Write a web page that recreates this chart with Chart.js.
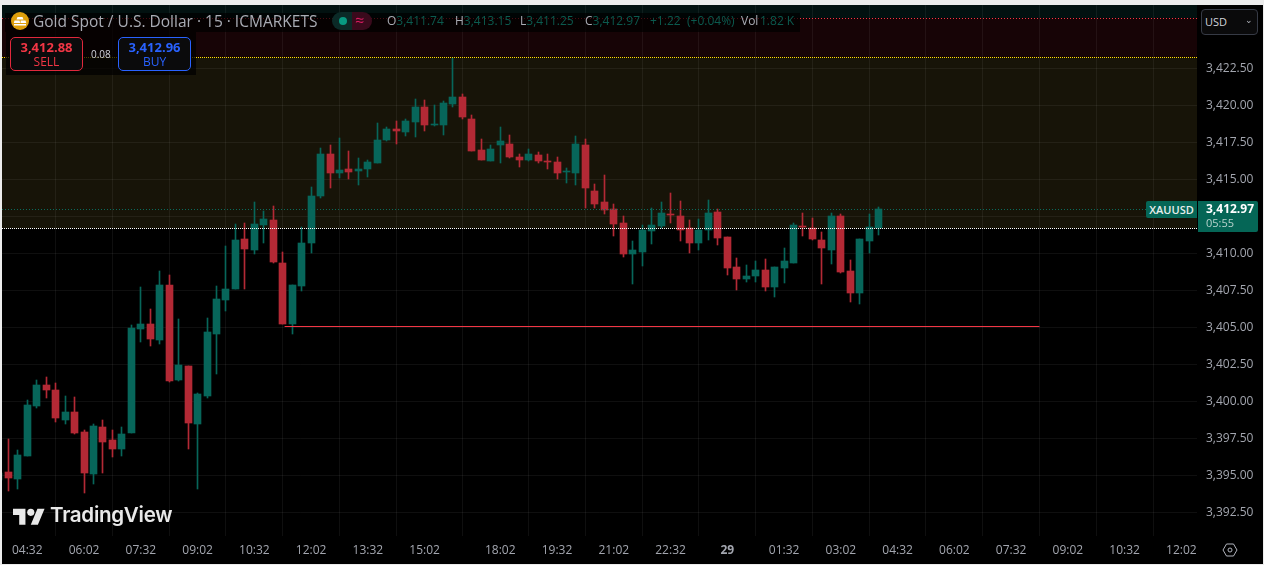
<!DOCTYPE html>
<html>
<head>
<meta charset="utf-8">
<title>XAUUSD 15</title>
<script src="https://cdn.jsdelivr.net/npm/chart.js@4"></script>
<style>
    html, body { margin: 0; padding: 0; background: #ececec; overflow: hidden; }
    body { width: 1264px; height: 565px; position: relative; font-family: "Open Sans", sans-serif; }
    #wrap { position: absolute; left: 2px; top: 5px; width: 1261px; height: 559px; background: #000; overflow: hidden; }
    canvas { display: block; }
    .abs { position: absolute; white-space: nowrap; }
    .legend { left: 3px; top: 8px; width: 795px; height: 19px; background: rgba(0,0,0,.72); }
    .title { left: 31px; top: 6px; font-size: 15.5px; line-height: 20px; color: #a9acb4; }
    .ohlc { top: 7px; font-size: 12px; line-height: 18px; color: #0b5a4e; }
    .ohlc b { font-weight: 400; color: #a9acb4; }
    .panel { left: 4px; top: 27px; width: 190px; height: 43px; background: rgba(0,0,0,.72); }
    .btn { top: 32px; width: 71px; height: 32px; border: 1px solid; border-radius: 5px; background: #0b0b0c; text-align: center; }
    .btn .p { font-size: 13px; font-weight: 700; line-height: 15px; margin-top: 2px; }
    .btn .s { font-size: 12px; line-height: 13px; }
    .tag { background: #056656; color: #e8eeec; }
</style>
</head>
<body>
<div id="wrap">
    <canvas id="chart" width="1261" height="559"></canvas>

    <div class="abs legend"></div>
    <svg class="abs" style="left:9px;top:7px" width="18" height="18" viewBox="0 0 18 18">
        <circle cx="9" cy="9" r="9" fill="#dd9f0b"/>
        <path d="M6.5 5h5l1 2.5h-7zM3.5 8.5h5l.8 2.5H2.8zM9.6 8.5h4.9l.8 2.5H9.6z M3 12h12v1.5H3z" fill="#fff"/>
    </svg>
    <div class="abs title">Gold Spot / U.S. Dollar · 15 · ICMARKETS</div>
    <div class="abs" style="left:330px;top:7px;width:20px;height:18px;background:#0b2a27;border-radius:9px 0 0 9px"></div>
    <div class="abs" style="left:350px;top:7px;width:20px;height:18px;background:#3a0a1c;border-radius:0 9px 9px 0"></div>
    <div class="abs" style="left:337px;top:12px;width:8px;height:8px;background:#089981;border-radius:50%"></div>
    <div class="abs" style="left:353px;top:6px;font-size:16px;line-height:19px;color:#d81b60">≈</div>
    <div class="abs ohlc" style="left:385px"><b>O</b>3,411.74</div>
    <div class="abs ohlc" style="left:453px"><b>H</b>3,413.15</div>
    <div class="abs ohlc" style="left:518px"><b>L</b>3,411.25</div>
    <div class="abs ohlc" style="left:583px"><b>C</b>3,412.97</div>
    <div class="abs ohlc" style="left:648px">+1.22</div>
    <div class="abs ohlc" style="left:685px">(+0.04%)</div>
    <div class="abs ohlc" style="left:739px"><b>Vol</b></div>
    <div class="abs ohlc" style="left:758px">1.82 K</div>

    <div class="abs panel"></div>
    <div class="abs btn" style="left:8px;border-color:#e0283c;color:#f23645"><div class="p">3,412.88</div><div class="s">SELL</div></div>
    <div class="abs" style="left:89px;top:42px;font-size:10px;line-height:14px;color:#d1d4dc">0.08</div>
    <div class="abs btn" style="left:116px;border-color:#2962ff;color:#2962ff"><div class="p">3,412.96</div><div class="s">BUY</div></div>

    <div class="abs" style="left:1199px;top:4px;width:55px;height:24px;border:1px solid #363a45;border-radius:4px;background:#0a0a0b;color:#d1d4dc;font-size:11px;line-height:24px;text-indent:3px">USD<span style="position:absolute;right:4px;top:-2px;font-size:9px;color:#b2b5be">⌄</span></div>

    <div class="abs tag" style="left:1144px;top:196px;width:51px;height:17px;font-size:11px;font-weight:600;line-height:17px;text-align:center;border-radius:2px 0 0 2px">XAUUSD</div>
    <div class="abs tag" style="left:1196px;top:196px;width:60px;height:31px;border-radius:0 2px 2px 0">
        <div style="font-size:12px;font-weight:700;line-height:15px;margin-left:8px;color:#fff">3,412.97</div>
        <div style="font-size:11px;line-height:14px;margin-left:8px;color:#b9d3cd">05:55</div>
    </div>

    <svg class="abs" style="left:11px;top:500px" width="32" height="20" viewBox="0 0 36 22">
        <path d="M14 22H7V11H0V4h14v18zM28 22h-8l7.5-18h8L28 22z" fill="#e8e8e8"/>
        <circle cx="20" cy="8" r="4" fill="#e8e8e8"/>
    </svg>
    <div class="abs" style="left:48px;top:497px;font-family:Inter,sans-serif;font-size:20.6px;font-weight:600;line-height:26px;letter-spacing:-.3px;color:#e8e8e8">TradingView</div>

    <svg class="abs" style="left:1220px;top:537px" width="16" height="16" viewBox="0 0 16 16" fill="none" stroke="#b2b5be">
        <path d="M4.5 2h7L15 8l-3.5 6h-7L1 8z"/>
        <circle cx="8" cy="8" r="2"/>
    </svg>
</div>

<script>
"use strict";

// Candle data, one entry per 15 min bar
const opens = [3394.68, 3395.22, 3394.75, 3396.30, 3399.68, 3401.10, 3400.76, 3398.74, 3399.28, 3397.92,
    3395.09, 3398.26, 3397.38, 3396.78, 3397.86, 3404.88, 3405.23, 3404.14, 3407.86, 3401.44,
    3402.39, 3398.47, 3400.36, 3404.55, 3406.85, 3407.59, 3410.97, 3410.23, 3411.92, 3412.25,
    3409.35, 3405.23, 3407.79, 3410.70, 3413.88, 3416.71, 3415.43, 3415.70, 3415.56, 3415.70,
    3416.10, 3417.66, 3418.40, 3418.20, 3418.88, 3419.89, 3418.67, 3418.67, 3420.09, 3420.56,
    3419.08, 3416.98, 3416.23, 3417.32, 3417.38, 3416.50, 3416.30, 3416.64, 3416.23, 3416.17,
    3415.49, 3415.42, 3417.32, 3414.21, 3413.46, 3412.99, 3412.04, 3409.95, 3410.09, 3411.50,
    3411.84, 3412.65, 3412.52, 3411.71, 3410.69, 3411.57, 3412.79, 3411.10, 3409.07, 3408.26,
    3408.46, 3408.87, 3407.73, 3409.01, 3409.35, 3411.85, 3411.71, 3410.90, 3410.23, 3412.52,
    3408.81, 3407.32, 3410.83, 3411.74];
const highs = [3395.13, 3397.47, 3396.71, 3400.09, 3401.44, 3401.64, 3401.24, 3400.36, 3400.29, 3398.06,
    3398.46, 3398.74, 3398.06, 3398.26, 3405.15, 3407.72, 3406.24, 3408.81, 3408.54, 3405.56,
    3402.39, 3400.56, 3405.63, 3407.79, 3410.50, 3411.98, 3412.05, 3413.47, 3412.86, 3413.20,
    3410.09, 3407.86, 3411.78, 3414.48, 3417.12, 3417.32, 3417.79, 3416.92, 3416.44, 3416.31,
    3418.81, 3418.54, 3418.94, 3419.08, 3420.43, 3420.36, 3420.02, 3420.29, 3423.18, 3420.77,
    3419.35, 3417.72, 3417.32, 3418.53, 3417.99, 3416.71, 3417.04, 3416.84, 3416.71, 3416.50,
    3415.76, 3417.92, 3417.72, 3414.68, 3415.29, 3413.33, 3412.52, 3410.83, 3411.91, 3413.06,
    3413.46, 3414.07, 3413.53, 3412.25, 3412.31, 3413.60, 3412.99, 3411.10, 3409.68, 3409.21,
    3409.48, 3409.61, 3409.08, 3410.36, 3412.05, 3412.73, 3412.39, 3411.44, 3412.73, 3412.66,
    3409.55, 3410.97, 3412.66, 3413.15];
const lows = [3394.68, 3393.94, 3394.07, 3396.30, 3399.55, 3400.22, 3398.60, 3398.46, 3397.79, 3393.80,
    3394.41, 3395.15, 3396.24, 3396.30, 3397.86, 3404.01, 3403.74, 3403.87, 3401.31, 3401.37,
    3396.78, 3394.08, 3400.23, 3401.85, 3406.10, 3407.59, 3407.59, 3409.96, 3410.70, 3409.35,
    3405.23, 3404.55, 3407.46, 3410.00, 3413.74, 3414.42, 3415.09, 3415.02, 3414.62, 3415.16,
    3416.10, 3417.59, 3417.39, 3417.93, 3417.86, 3418.27, 3418.60, 3418.00, 3419.89, 3419.08,
    3416.92, 3416.30, 3416.23, 3416.10, 3416.44, 3415.83, 3416.23, 3416.10, 3415.69, 3415.02,
    3414.75, 3414.61, 3413.06, 3413.06, 3412.65, 3411.17, 3409.75, 3407.92, 3409.14, 3410.63,
    3411.71, 3412.04, 3410.83, 3410.02, 3410.22, 3410.90, 3410.56, 3408.53, 3407.52, 3408.06,
    3408.06, 3407.45, 3407.05, 3408.00, 3409.35, 3411.17, 3410.90, 3407.93, 3409.28, 3408.67,
    3406.71, 3406.58, 3410.02, 3411.25];
const closes = [3395.13, 3394.82, 3396.37, 3399.75, 3401.10, 3400.76, 3398.87, 3399.28, 3397.86, 3395.15,
    3398.33, 3397.25, 3396.78, 3397.79, 3404.95, 3405.22, 3404.21, 3407.86, 3401.37, 3402.46,
    3398.54, 3400.50, 3404.69, 3406.92, 3407.59, 3410.90, 3410.29, 3411.98, 3412.32, 3409.42,
    3405.23, 3407.86, 3410.70, 3413.87, 3416.71, 3415.43, 3415.63, 3415.50, 3415.70, 3416.17,
    3417.66, 3418.40, 3418.27, 3418.94, 3419.89, 3418.67, 3418.74, 3420.16, 3420.56, 3419.21,
    3416.92, 3416.30, 3417.04, 3417.59, 3416.50, 3416.30, 3416.71, 3416.23, 3416.17, 3415.42,
    3415.56, 3417.38, 3414.41, 3413.33, 3412.92, 3411.98, 3409.95, 3410.22, 3411.57, 3411.91,
    3412.72, 3412.59, 3411.57, 3410.69, 3411.57, 3412.72, 3411.03, 3409.00, 3408.26, 3408.46,
    3408.87, 3407.72, 3409.08, 3409.48, 3411.92, 3411.78, 3410.97, 3410.36, 3412.52, 3408.74,
    3407.32, 3410.97, 3411.78, 3412.97];

// Axis ticks: bar number -> label
const timeTickBars = [3, 9, 15, 21, 27, 33, 39, 45, 53, 59, 65, 71, 77, 83, 89, 95, 101, 107, 113, 119, 125];
const timeTickLabels = ['04:32', '06:02', '07:32', '09:02', '10:32', '12:02', '13:32', '15:02', '18:02', '19:32', '21:02',
    '22:32', '29', '01:32', '03:02', '04:32', '06:02', '07:32', '09:02', '10:32', '12:02'];
const priceTicks = [3392.5, 3395, 3397.5, 3400, 3402.5, 3405, 3407.5, 3410, 3412.5, 3415, 3417.5, 3420, 3422.5];

// Horizontal levels drawn by the plugin below
const topZone = 3425.9;
const sellZone = 3423.2;
const buyZone = 3411.68;
const lastPrice = 3412.97;
const levelPrice = 3405.05;
const levelFromBar = 30.2;
const levelToBar = 110;

const GREEN = '#07665a';
const RED = '#b32935';

const bars = opens.map((o, i) => i);
const candleColors = opens.map((o, i) => closes[i] >= o ? GREEN : RED);

// Snap bars to whole pixels, the original chart has no blurry wicks
const snapBars = {
    id: 'snapBars',
    afterDatasetsUpdate(chart) {
        chart.getSortedVisibleDatasetMetas().forEach(meta => {
            meta.data.forEach(el => {
                el.x = Math.floor(el.x) + 0.5;
                el.y = Math.round(el.y);
                el.base = Math.round(el.base);
                if (el.y === el.base) el.base = el.y + 1;
            });
        });
    }
};

// Coloured zones behind the grid
const zones = {
    id: 'zones',
    beforeDraw(chart) {
        const { ctx, chartArea: a, scales: { y } } = chart;
        const band = (top, bottom, color) => {
            ctx.fillStyle = color;
            ctx.fillRect(a.left, top, a.right - a.left, bottom - top);
        };
        ctx.save();
        band(a.top, y.getPixelForValue(topZone), '#021110');
        band(y.getPixelForValue(topZone), y.getPixelForValue(sellZone), '#170406');
        band(y.getPixelForValue(sellZone), y.getPixelForValue(buyZone), '#171408');
        ctx.restore();
    },
    afterDatasetsDraw(chart) {
        const { ctx, chartArea: a, scales: { x, y } } = chart;
        const dotted = (price, color, dash) => {
            const py = Math.floor(y.getPixelForValue(price)) + 0.5;
            ctx.strokeStyle = color;
            ctx.lineWidth = 1;
            ctx.setLineDash(dash);
            ctx.beginPath();
            ctx.moveTo(a.left, py);
            ctx.lineTo(a.right, py);
            ctx.stroke();
        };
        ctx.save();
        dotted(lastPrice, '#0b6b5c', [1, 2]);
        dotted(topZone, '#f23645', [1, 2]);
        dotted(sellZone, '#ffe600', [1, 1]);
        dotted(buyZone, '#ffffff', [1, 1]);
        const left = x.getPixelForValue(levelFromBar);
        ctx.fillStyle = '#f23645';
        ctx.fillRect(left, Math.floor(y.getPixelForValue(levelPrice)), x.getPixelForValue(levelToBar) - left, 1);
        ctx.restore();
    }
};

new Chart(document.getElementById('chart'), {
    type: 'bar',
    data: {
        datasets: [
            {
                // wicks
                data: bars.map(i => ({ x: i, y: [lows[i], highs[i]] })),
                backgroundColor: candleColors,
                barThickness: 1,
                grouped: false,
                order: 2
            },
            {
                // bodies
                data: bars.map(i => ({ x: i, y: [opens[i], closes[i]] })),
                backgroundColor: candleColors,
                barThickness: 7,
                grouped: false,
                order: 1
            }
        ]
    },
    options: {
        responsive: false,
        devicePixelRatio: 1,
        animation: false,
        events: [],
        layout: { padding: 0, autoPadding: false },
        plugins: { legend: { display: false }, tooltip: { enabled: false } },
        scales: {
            x: {
                type: 'linear',
                offset: false,
                min: 0.326,
                max: 126.65,
                border: { display: false },
                grid: { color: 'rgba(255,255,255,0.06)', drawTicks: false },
                afterBuildTicks: axis => { axis.ticks = timeTickBars.map(v => ({ value: v })); },
                afterFit: axis => { axis.height = 28; axis.paddingLeft = 0; axis.paddingRight = 0; },
                ticks: {
                    autoSkip: false,
                    maxRotation: 0,
                    padding: 7,
                    color: '#a3a6af',
                    font: ctx => ({
                        family: '"Open Sans", sans-serif',
                        size: 12,
                        weight: ctx.tick && ctx.tick.value === 77 ? '700' : '400'
                    }),
                    callback: v => timeTickLabels[timeTickBars.indexOf(v)]
                }
            },
            y: {
                position: 'right',
                min: 3390.9,
                max: 3426.78,
                border: { display: false },
                grid: { color: 'rgba(255,255,255,0.06)', drawTicks: false },
                afterBuildTicks: axis => { axis.ticks = priceTicks.map(v => ({ value: v })); },
                // the default top padding would push the plot down from the canvas edge
                afterFit: axis => { axis.width = 66; axis.paddingTop = 0; axis.paddingBottom = 0; },
                ticks: {
                    autoSkip: false,
                    padding: 9,
                    color: '#a3a6af',
                    font: { family: '"Open Sans", sans-serif', size: 12 },
                    callback: v => v.toLocaleString('en-US', { minimumFractionDigits: 2 })
                }
            }
        }
    },
    plugins: [snapBars, zones]
});
</script>
</body>
</html>
